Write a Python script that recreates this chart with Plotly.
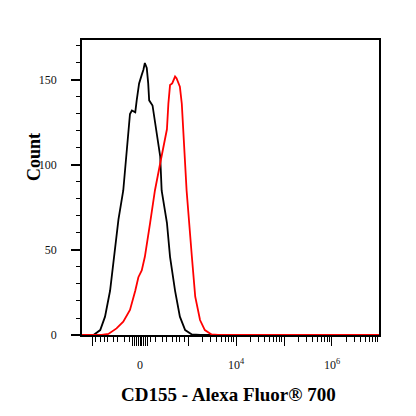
import numpy as np
import plotly.graph_objects as go

# x is in display units of the biexponential axis: 0 -> 0, 1 -> 10^3, 2 -> 10^4 ...
ctrl_x = [-1.21, -0.97, -0.83, -0.73, -0.625, -0.52, -0.45, -0.35, -0.28, -0.21, -0.17,
          -0.10, -0.07, -0.02, 0.035, 0.07, 0.10, 0.14, 0.17, 0.19, 0.26, 0.31, 0.37,
          0.42, 0.45, 0.56, 0.625, 0.73, 0.83, 0.94, 1.08, 1.25, 5.0]
ctrl_y = [0, 0, 2.9, 10.8, 26, 50, 68, 85, 109, 130, 132,
          131, 138, 148, 153, 156, 160, 157, 148, 138, 135, 126, 115,
          105, 85, 66, 46, 26, 10.8, 2.9, 0.3, 0, 0]

cd155_x = [-1.21, -0.80, -0.66, -0.49, -0.35, -0.21, -0.10, -0.035, 0.035, 0.10, 0.21,
           0.31, 0.42, 0.56, 0.59, 0.625, 0.67, 0.73, 0.76, 0.83, 0.87, 0.90, 0.94,
           0.97, 1.08, 1.15, 1.25, 1.35, 1.49, 1.625, 5.0]
cd155_y = [0, 0, 0.6, 3.9, 7.8, 14.7, 26, 34, 38, 46, 66,
           85, 101, 121, 136, 147, 148, 152, 151, 146, 136, 119, 101,
           85, 46, 22.5, 8.8, 2.9, 0.3, 0, 0]

major_x = [-1, 0, 1, 2, 3, 4, 5]
major_text = ['', '0', '', '10<sup>4</sup>', '', '10<sup>6</sup>', '']
zero_cluster = [-0.16, -0.12, -0.08, -0.04, 0.04, 0.08, 0.12, 0.16]
lin_minor = [0.21, 0.33, 0.46, 0.56, 0.67, 0.75, 0.83, 0.92]
log_minor = [d + np.log10(k) for d in range(1, 5) for k in range(2, 10)]
minor_x = [-v for v in lin_minor] + lin_minor + log_minor

count_ticks = [0, 50, 100, 150]

fig = go.Figure()
fig.add_trace(go.Scatter(x=ctrl_x, y=ctrl_y, mode='lines',
                         line=dict(color='black', width=1.8), name='Isotype'))
fig.add_trace(go.Scatter(x=cd155_x, y=cd155_y, mode='lines',
                         line=dict(color='#ff0000', width=1.8), name='CD155'))

serif = 'Liberation Serif, Times New Roman, serif'

# page body adds an 8px offset, so margins are trimmed by that amount
L, R, T, B = 74, 45, 32, 89

fig.update_layout(
    width=416, height=416,
    margin=dict(l=L, r=R, t=T, b=B),
    paper_bgcolor='white', plot_bgcolor='white',
    showlegend=False,
    font=dict(family=serif, size=12, color='black'),
    xaxis=dict(
        range=[-1.21, 4.98],
        tickmode='array',
        tickvals=major_x + zero_cluster,
        ticktext=major_text + [''] * len(zero_cluster),
        ticks='outside', ticklen=9, tickwidth=1.4, tickcolor='black',
        ticklabelstandoff=9,
        minor=dict(tickmode='array', tickvals=minor_x, ticks='outside',
                   ticklen=5, tickwidth=1, tickcolor='black'),
        showline=True, linecolor='black', linewidth=1.5, mirror=True,
        showgrid=False, zeroline=False,
        tickfont=dict(family=serif, size=12, color='#111'),
    ),
    yaxis=dict(
        range=[0, 173.5],
        tickmode='array', tickvals=count_ticks,
        ticks='outside', ticklen=9, tickwidth=1.5, tickcolor='black',
        ticklabelposition='outside', ticklabelstandoff=12,
        minor=dict(dtick=10, ticks='outside', ticklen=4, tickwidth=1, tickcolor='black'),
        showline=True, linecolor='black', linewidth=1.5, mirror=True,
        showgrid=False, zeroline=False,
        tickfont=dict(family=serif, size=12, color='#111'),
    ),
    annotations=[
        dict(text='<b>Count</b>', textangle=-90, x=34, y=157, xref='paper', yref='paper',
             showarrow=False, font=dict(family=serif, size=18, color='black')),
        dict(text='<b>CD155 - Alexa Fluor® 700</b>', x=228, y=395, xref='paper', yref='paper',
             showarrow=False, font=dict(family=serif, size=19, color='black')),
    ],
)

# annotation positions given in screen pixels -> paper coords
pw = 416 - L - R
ph = 416 - T - B
for a in fig.layout.annotations:
    a.x = (a.x - 8 - L) / pw
    a.y = (416 - B - (a.y - 8)) / ph
    a.xanchor = 'center'
    a.yanchor = 'middle'

fig.write_html('out.html')
